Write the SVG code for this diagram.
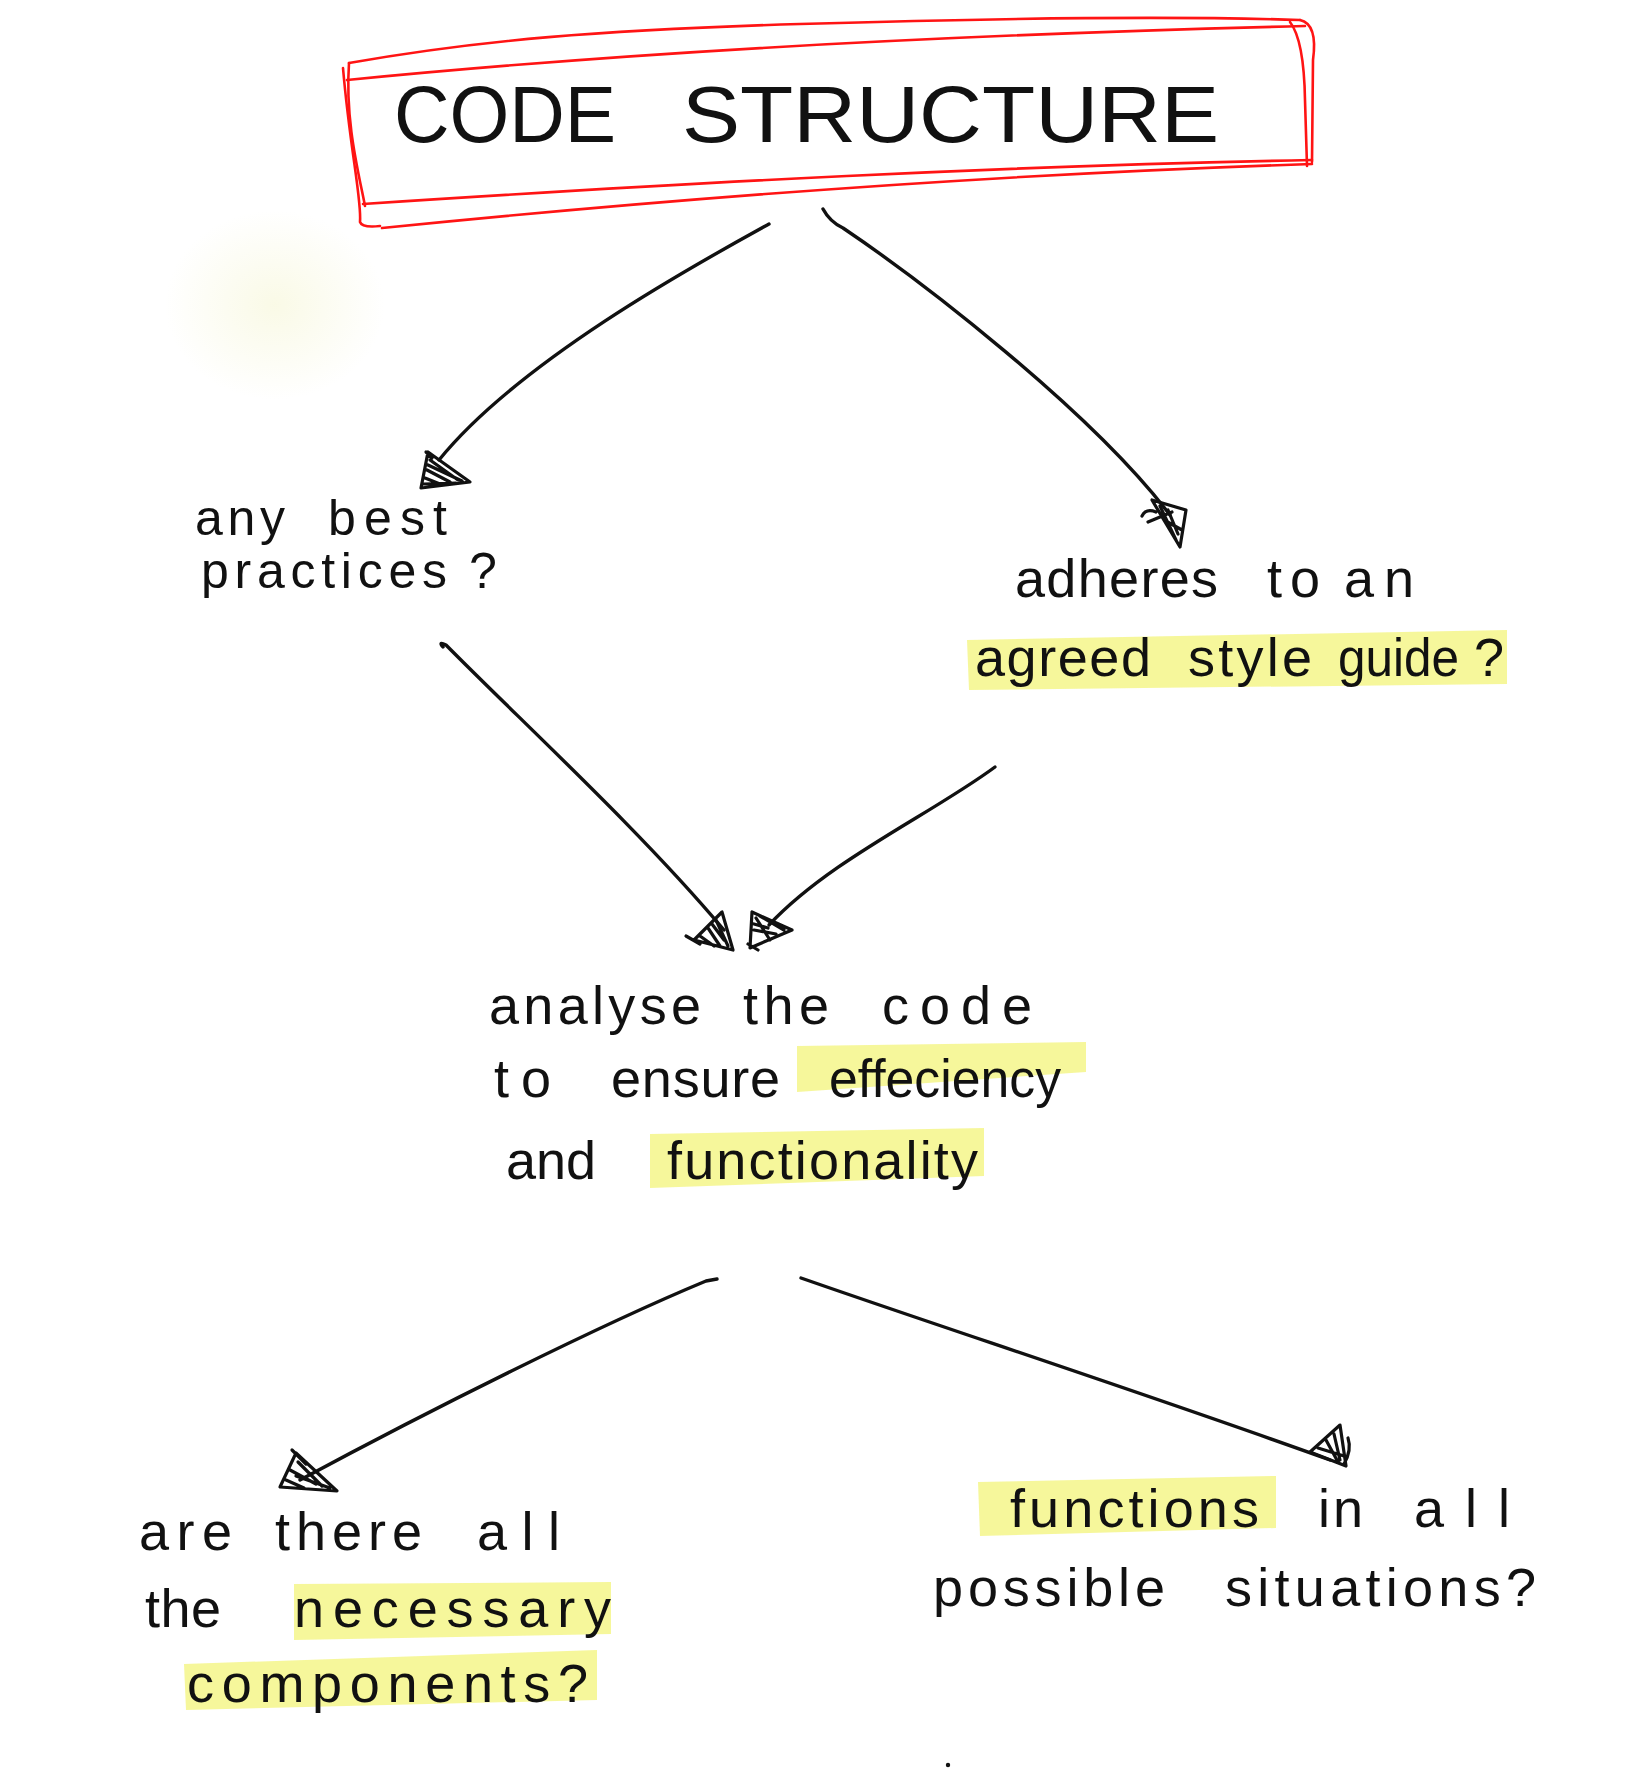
<svg xmlns="http://www.w3.org/2000/svg" width="1639" height="1774" viewBox="0 0 1639 1774">
  <defs>
    <radialGradient id="glow" cx="0.5" cy="0.5" r="0.5">
      <stop offset="0" stop-color="#f3f3c8" stop-opacity="0.45"/>
      <stop offset="1" stop-color="#f3f3c8" stop-opacity="0"/>
    </radialGradient>
  </defs>
  <style>
    .red { fill: none; stroke: #ff1414; stroke-width: 2.6; stroke-linecap: round; stroke-linejoin: round; }
    .ln { fill: none; stroke: #111; stroke-width: 3.4; stroke-linecap: round; stroke-linejoin: round; }
    .hd { fill: none; stroke: #111; stroke-width: 3.2; stroke-linecap: round; stroke-linejoin: round; }
    .hl { fill: #f5f68a; opacity: 0.85; }
    .t { font-family: "Liberation Sans", Arial, sans-serif; font-size: 54px; fill: #111; }
    .s { font-size: 50px; }
    .title { font-family: "Liberation Sans", Arial, sans-serif; font-size: 80px; fill: #111; }
  </style>
  <rect width="1639" height="1774" fill="#ffffff"/>
  <ellipse cx="275" cy="305" rx="110" ry="95" fill="url(#glow)"/>

  <g id="title">
    <path class="red" d="M349,63 C 480,40 600,30 800,24 S 1180,16 1300,20"/>
    <path class="red" d="M347,80 C 600,55 900,36 1305,26"/>
    <path class="red" d="M1300,20 Q1318,24 1313,60 L1312,162"/>
    <path class="red" d="M1290,22 Q1304,40 1305,100 L1307,166"/>
    <path class="red" d="M1312,160 C 1000,166 700,182 363,204"/>
    <path class="red" d="M1312,164 C 1000,174 700,196 382,228"/>
    <path class="red" d="M349,63 C 345,120 358,170 365,206"/>
    <path class="red" d="M343,68 C 350,150 362,200 360,222 Q 362,228 380,226"/>
    <text class="title" x="394" y="142" textLength="222" lengthAdjust="spacingAndGlyphs">CODE</text>
    <text class="title" x="682" y="142" textLength="537" lengthAdjust="spacingAndGlyphs">STRUCTURE</text>
  </g>

  <g id="node-best-practices">
    <text class="t s" x="195" y="535" textLength="90" lengthAdjust="spacing">any</text>
    <text class="t s" x="328" y="535" textLength="119" lengthAdjust="spacing">best</text>
    <text class="t s" x="201" y="588" textLength="246" lengthAdjust="spacing">practices</text>
    <text class="t s" x="469" y="588">?</text>
  </g>

  <g id="node-style-guide">
    <path class="hl" d="M967,640 L1507,630 L1507,684 L969,690 Z"/>
    <text class="t" x="1015" y="597" textLength="203" lengthAdjust="spacing">adheres</text>
    <text class="t" x="1267" y="597" textLength="53" lengthAdjust="spacing">to</text>
    <text class="t" x="1344" y="597" textLength="70" lengthAdjust="spacing">an</text>
    <text class="t" x="975" y="676" textLength="176" lengthAdjust="spacing">agreed</text>
    <text class="t" x="1188" y="676" textLength="124" lengthAdjust="spacing">style</text>
    <text class="t" x="1338" y="676" textLength="121" lengthAdjust="spacingAndGlyphs">guide</text>
    <text class="t" x="1474" y="676">?</text>
  </g>

  <g id="node-analyse">
    <path class="hl" d="M797,1046 L1086,1042 L1086,1072 L797,1092 Z"/>
    <path class="hl" d="M650,1134 L984,1128 L984,1176 L650,1188 Z"/>
    <text class="t" x="489" y="1024" textLength="212" lengthAdjust="spacing">analyse</text>
    <text class="t" x="743" y="1024" textLength="86" lengthAdjust="spacing">the</text>
    <text class="t" x="882" y="1024" textLength="150" lengthAdjust="spacing">code</text>
    <text class="t" x="494" y="1097" textLength="57" lengthAdjust="spacing">to</text>
    <text class="t" x="611" y="1097" textLength="169" lengthAdjust="spacing">ensure</text>
    <text class="t" x="829" y="1097" textLength="232" lengthAdjust="spacingAndGlyphs">effeciency</text>
    <text class="t" x="506" y="1179" textLength="90" lengthAdjust="spacing">and</text>
    <text class="t" x="667" y="1179" textLength="311" lengthAdjust="spacing">functionality</text>
  </g>

  <g id="node-components">
    <path class="hl" d="M294,1584 L611,1582 L611,1634 L294,1640 Z"/>
    <path class="hl" d="M184,1664 L597,1650 L597,1700 L186,1710 Z"/>
    <text class="t" x="139" y="1550" textLength="93" lengthAdjust="spacing">are</text>
    <text class="t" x="275" y="1550" textLength="147" lengthAdjust="spacing">there</text>
    <text class="t" x="477" y="1550" textLength="83" lengthAdjust="spacing">all</text>
    <text class="t" x="145" y="1627" textLength="76" lengthAdjust="spacing">the</text>
    <text class="t" x="294" y="1627" textLength="317" lengthAdjust="spacing">necessary</text>
    <text class="t" x="187" y="1702" textLength="401" lengthAdjust="spacing">components?</text>
  </g>

  <g id="node-situations">
    <path class="hl" d="M978,1482 L1276,1476 L1276,1528 L980,1536 Z"/>
    <text class="t" x="1010" y="1527" textLength="249" lengthAdjust="spacing">functions</text>
    <text class="t" x="1318" y="1527" textLength="45" lengthAdjust="spacing">in</text>
    <text class="t" x="1414" y="1527" textLength="96" lengthAdjust="spacing">all</text>
    <text class="t" x="933" y="1606" textLength="232" lengthAdjust="spacing">possible</text>
    <text class="t" x="1225" y="1606" textLength="311" lengthAdjust="spacing">situations?</text>
  </g>

  <g id="connectors">
    <path class="ln" d="M769,224 C 700,262 520,360 439,460"/>
    <path class="hd" d="M428,452 L421,488 L470,482 Z M430,460 L458,480 M427,470 L450,482 M425,478 L440,484 M432,458 L426,452 M428,465 L462,481 M424,484 L456,483"/>

    <path class="ln" d="M823,209 Q830,222 843,228 C 920,280 1090,410 1170,515"/>
    <path class="hd" d="M1152,500 L1180,547 L1186,510 Z M1160,506 L1176,540 M1168,510 L1178,534 M1148,522 L1172,512 M1142,516 Q1146,508 1156,512 M1164,520 L1182,530"/>

    <path class="ln" d="M443,647 Q 438,641 446,645 C 520,720 640,830 724,930"/>
    <path class="hd" d="M722,912 L694,940 L733,950 Z M716,920 L728,946 M708,928 L720,946 M700,936 L714,946 M686,936 L700,944 M712,924 L724,940"/>

    <path class="ln" d="M995,767 C 930,815 830,860 769,925"/>
    <path class="hd" d="M752,912 L750,948 L792,930 Z M756,918 L770,940 M760,916 L784,930 M754,930 L776,934 M748,944 L758,950 M754,924 L768,928"/>

    <path class="ln" d="M717,1279 L706,1281 C 600,1325 430,1410 300,1480"/>
    <path class="hd" d="M296,1453 L280,1487 L337,1491 Z M298,1462 L322,1486 M290,1470 L316,1484 M286,1480 L304,1488 M292,1450 L306,1464 M296,1476 L330,1488"/>

    <path class="ln" d="M801,1278 C 950,1330 1150,1395 1330,1460"/>
    <path class="hd" d="M1340,1425 L1310,1452 L1346,1466 Z M1334,1434 L1340,1460 M1326,1440 L1338,1462 M1318,1448 L1344,1456 M1348,1438 Q1352,1450 1344,1464"/>
  </g>

  <circle cx="948" cy="1765" r="2.2" fill="#111"/>
</svg>
